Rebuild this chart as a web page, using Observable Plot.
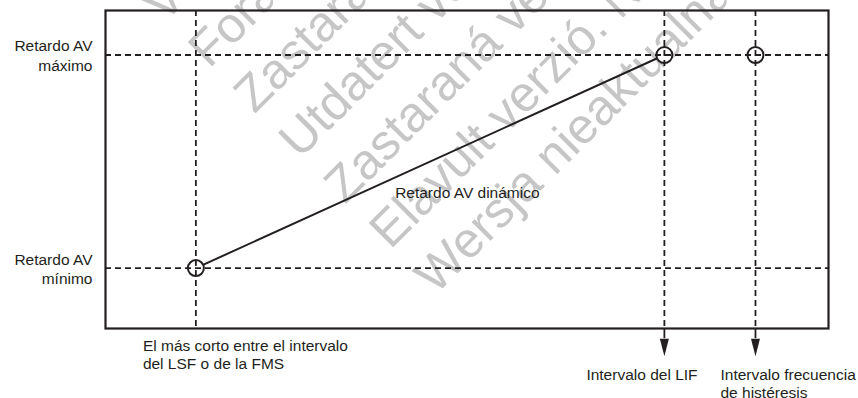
<!DOCTYPE html>
<html><head><meta charset="utf-8">
<script src="https://cdn.jsdelivr.net/npm/d3@7"></script>
<script src="https://cdn.jsdelivr.net/npm/@observablehq/plot@0.6"></script>
<style>
html,body{margin:0;padding:0;background:#fff;overflow:hidden;}
#chart{width:858px;height:398px;}
</style></head><body><div id="chart"></div>
<script>
// ---- data (relative interval / AV-delay units, 0–100) ----
const intervalLabels = ["El más corto entre el intervalo\ndel LSF o de la FMS", "Intervalo del LIF", "Intervalo frecuencia\nde histéresis"];
const intervalValues = [12.5, 77.3, 89.9];
const delayLabels = ["Retardo AV\nmínimo", "Retardo AV\nmáximo"];
const delayValues = [19, 86];
const pointIntervals = [12.5, 77.3, 89.9];
const pointDelays = [19, 86, 86];
const curveIntervals = [12.5, 77.3];
const curveDelays = [19, 86];
const curveLabel = "Retardo AV dinámico";
const arrowIntervals = [77.3, 89.9];
const watermarkLines = [
  "Veraltete Version. Nicht verwenden.",
  "Forældet version. Må ikke anvendes.",
  "Zastaralá verze. Nepoužívat.",
  "Utdatert versjon. Skal ikke brukes.",
  "Zastaraná verzia. Nepoužívať.",
  "Elavult verzió. Ne használja!",
  "Wersja nieaktualna. Nie używać."
];

// ---- tables built from the arrays ----
const points = pointIntervals.map((x, i) => ({x, y: pointDelays[i]}));
const curve = curveIntervals.map((x, i) => ({x, y: curveDelays[i]}));
const delays = delayValues.map((y, i) => ({y, label: delayLabels[i]}));
const curveMid = [{x: d3.mean(curveIntervals), y: d3.mean(curveDelays), label: curveLabel}];
const arrowDrop = 3.2;
const arrows = arrowIntervals.map(x => ({x, top: 0, base: -arrowDrop}));

const ink = "#231f20";
const dash = "6,4";

const labelMark = (i, dx, dy) => Plot.text([{x: intervalValues[i], label: intervalLabels[i]}], {
  x: "x", text: "label", frameAnchor: "bottom", textAnchor: "start", lineAnchor: "top",
  lineHeight: 1.2, dx, dy, fill: ink
});

const plot = Plot.plot({
  width: 858, height: 398,
  marginLeft: 105, marginRight: 30, marginTop: 10, marginBottom: 70,
  x: {domain: [0, 100], axis: null},
  y: {domain: [0, 100], axis: null},
  style: {fontFamily: "'Liberation Sans', Arial, sans-serif", fontSize: "15.5px", color: ink, background: "white"},
  marks: [
    Plot.line(curve, {x: "x", y: "y", stroke: ink, strokeWidth: 2}),
    Plot.dot(points, {x: "x", y: "y", r: 8, stroke: ink, strokeWidth: 2, fill: "white"}),
    Plot.ruleX(intervalValues, {stroke: ink, strokeWidth: 1.8, strokeDasharray: dash}),
    Plot.ruleY(delayValues, {stroke: ink, strokeWidth: 1.8, strokeDasharray: dash}),
    Plot.frame({stroke: ink, strokeWidth: 2.2}),
    Plot.ruleX(arrows, {x: "x", y1: "top", y2: "base", stroke: ink, strokeWidth: 1.8}),
    Plot.vector(arrows, {x: "x", y: "base", rotate: 180, length: 17.5, r: 4.5, shape: "spike", anchor: "start", fill: ink, stroke: "none"}),
    Plot.text(delays, {y: "y", text: "label", frameAnchor: "left", textAnchor: "end", dx: -13, lineHeight: 1.28, fill: ink}),
    Plot.text(curveMid, {x: "x", y: "y", text: "label", textAnchor: "start", dx: -35, dy: 31, fill: ink}),
    labelMark(0, -53, 9),
    labelMark(1, -78, 38),
    labelMark(2, -35, 38)
  ]
});

// faded watermark behind the drawing
const wm = d3.select(plot).insert("g", ":first-child")
  .attr("text-anchor", "start")
  .attr("style", "font-size:50px;font-family:'Liberation Sans',Arial,sans-serif;fill:#c6c6c6");
watermarkLines.forEach((t, i) => {
  const p = 133 + 64 * i, a = 99;
  const x = (p + a) * Math.SQRT1_2, y = (p - a) * Math.SQRT1_2;
  wm.append("text").attr("text-anchor", "start")
    .attr("transform", `translate(${x},${y}) rotate(-45)`).text(t);
});

document.getElementById("chart").append(plot);
</script></body></html>
